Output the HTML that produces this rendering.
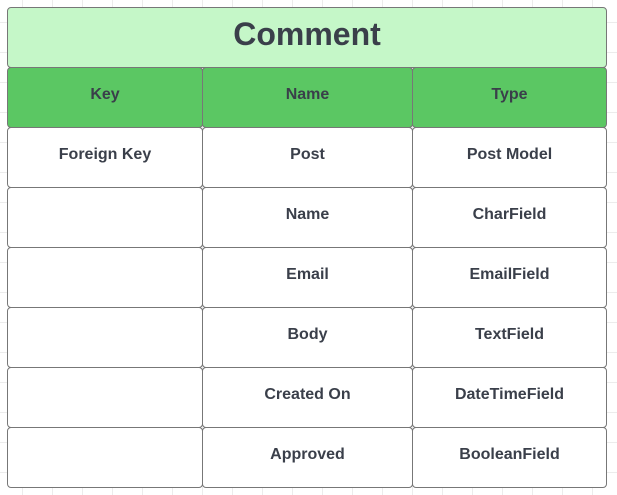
<!DOCTYPE html>
<html><head><meta charset="utf-8"><style>
html,body{margin:0;padding:0}
body{width:617px;height:495px;position:relative;overflow:hidden;background-color:#fff;
background-image:linear-gradient(to right,#ececec 1px,transparent 1px),linear-gradient(to bottom,#ececec 1px,transparent 1px);
background-size:30px 30px;background-position:22px 22px;
font-family:"Liberation Sans",sans-serif;color:#3a3f4a;font-weight:bold}
.c{position:absolute;box-sizing:border-box;border:1px solid #777;border-radius:4px;display:flex;align-items:center;justify-content:center;font-size:16px;background:#fff;padding-bottom:5px}
.t{background:#c5f7c8;font-size:32px;padding-bottom:7px}
.h{background:#5bc763}
</style></head><body>
<div class="c t" style="left:7px;top:7px;width:600px;height:61px">Comment</div>
<div class="c h" style="left:7px;top:67px;width:196px;height:61px">Key</div>
<div class="c h" style="left:202px;top:67px;width:211px;height:61px">Name</div>
<div class="c h" style="left:412px;top:67px;width:195px;height:61px">Type</div>

<div class="c" style="left:7px;top:127px;width:196px;height:61px">Foreign Key</div>
<div class="c" style="left:202px;top:127px;width:211px;height:61px">Post</div>
<div class="c" style="left:412px;top:127px;width:195px;height:61px">Post Model</div>

<div class="c" style="left:7px;top:187px;width:196px;height:61px"></div>
<div class="c" style="left:202px;top:187px;width:211px;height:61px">Name</div>
<div class="c" style="left:412px;top:187px;width:195px;height:61px">CharField</div>

<div class="c" style="left:7px;top:247px;width:196px;height:61px"></div>
<div class="c" style="left:202px;top:247px;width:211px;height:61px">Email</div>
<div class="c" style="left:412px;top:247px;width:195px;height:61px">EmailField</div>

<div class="c" style="left:7px;top:307px;width:196px;height:61px"></div>
<div class="c" style="left:202px;top:307px;width:211px;height:61px">Body</div>
<div class="c" style="left:412px;top:307px;width:195px;height:61px">TextField</div>

<div class="c" style="left:7px;top:367px;width:196px;height:61px"></div>
<div class="c" style="left:202px;top:367px;width:211px;height:61px">Created On</div>
<div class="c" style="left:412px;top:367px;width:195px;height:61px">DateTimeField</div>

<div class="c" style="left:7px;top:427px;width:196px;height:61px"></div>
<div class="c" style="left:202px;top:427px;width:211px;height:61px">Approved</div>
<div class="c" style="left:412px;top:427px;width:195px;height:61px">BooleanField</div>
</body></html>
